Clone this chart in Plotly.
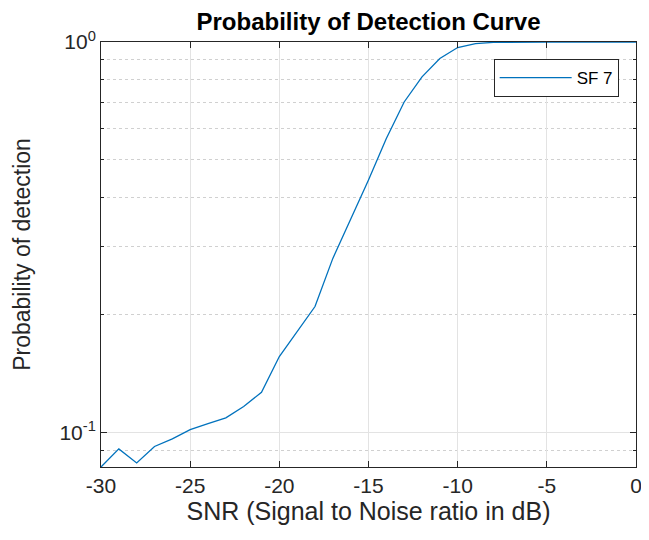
import plotly.graph_objects as go
import math

snr_db = list(range(-30, 1))
pd_sf7 = [0.0815, 0.0907, 0.0835, 0.092, 0.0962, 0.1016, 0.1052, 0.1089, 0.1165, 0.1266,
          0.1564, 0.181, 0.21, 0.279, 0.35, 0.443, 0.566, 0.702, 0.814, 0.907,
          0.968, 0.99, 0.998, 1.0, 1.0, 1.0, 1.0, 1.0, 1.0, 1.0, 1.0]
x_ticks = [-30, -25, -20, -15, -10, -5, 0]
x_tick_text = ["-30", "-25", "-20", "-15", "-10", "-5", "0"]
y_major = [0.1, 1.0]
y_major_text = ["10<sup>-1</sup>", "10<sup>0</sup>"]
y_minor = [0.09, 0.2, 0.3, 0.4, 0.5, 0.6, 0.7, 0.8, 0.9]

FONT = "Liberation Sans, Arial, Helvetica, sans-serif"
AX = "#262626"

# page body has an 8px default margin, so the figure is sized to 641x532
W, H = 641, 532

fig = go.Figure()
fig.add_trace(go.Scatter(x=snr_db, y=pd_sf7, mode="lines", name="SF 7",
                         line=dict(color="#0072BD", width=1.3)))

fig.update_layout(
    width=W, height=H,
    margin=dict(l=93, r=7, t=34, b=73),
    plot_bgcolor="white", paper_bgcolor="white",
    font=dict(family=FONT, color=AX, size=21),
    title=dict(text="<b>Probability of Detection Curve</b>", x=0.5, xref="paper",
               y=1 - 5 / H, yref="container", yanchor="top", pad=dict(t=0, b=0),
               font=dict(size=24, color="#000000")),
    showlegend=True,
    legend=dict(x=0.9676, y=0.96, xanchor="right", yanchor="top",
                bgcolor="white", bordercolor=AX, borderwidth=1,
                font=dict(size=17, color="#000000"), itemwidth=72),
)
fig.update_xaxes(
    range=[-30, 0], tickvals=x_ticks, ticktext=x_tick_text, ticks="inside", ticklen=6, tickcolor=AX,
    showline=True, linecolor=AX, linewidth=1, mirror="ticks",
    showgrid=True, gridcolor="#e3e3e3", gridwidth=1, zeroline=False,
    tickfont=dict(size=21, color=AX), ticklabeloverflow="allow",
    title=dict(text="SNR (Signal to Noise ratio in dB)", font=dict(size=25, color=AX), standoff=3),
)
fig.update_yaxes(
    type="log", range=[math.log10(0.0815), 0], tickvals=y_major, ticktext=y_major_text,
    ticks="inside", ticklen=6, tickcolor=AX,
    showline=True, linecolor=AX, linewidth=1, mirror="allticks",
    showgrid=True, gridcolor="#e3e3e3", gridwidth=1, zeroline=False,
    tickfont=dict(size=21, color=AX),
    minor=dict(tickvals=y_minor, ticks="inside", ticklen=3, tickcolor=AX,
               showgrid=True, gridcolor="#d0d0d0", griddash="dot", gridwidth=1),
    title=dict(text="Probability of detection", font=dict(size=23, color=AX), standoff=22),
)

fig.write_html("out.html")
